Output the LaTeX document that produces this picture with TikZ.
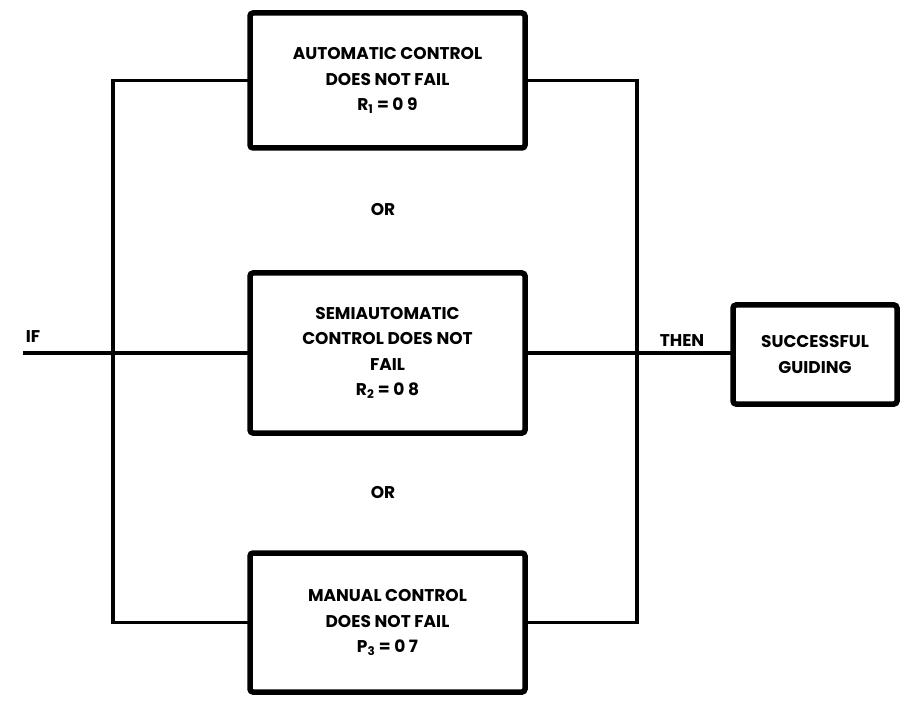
\documentclass[tikz,border=0pt]{standalone}
\usepackage{fontspec}
\setmainfont{Poppins}
\begin{document}
\begin{tikzpicture}[x=1pt,y=-1pt,
  blk/.style={draw, line width=5.5pt, rounded corners=3pt, inner sep=0pt,
    font=\fontsize{17}{25.5}\selectfont\bfseries, align=center, minimum width=275pt},
  wire/.style={line width=3.5pt, line cap=rect},
  lbl/.style={font=\fontsize{17}{18}\selectfont\bfseries, inner sep=0pt}]
\useasboundingbox (0,0) rectangle (902,708);
\node[blk, minimum height=135pt] (b1) at (387.5,80.5)
  {AUTOMATIC CONTROL\\DOES NOT FAIL\\R\textsubscript{1} = 0 9};
\node[blk, minimum height=160pt] (b2) at (387.5,353)
  {SEMIAUTOMATIC\\CONTROL DOES NOT\\FAIL\\R\textsubscript{2} = 0 8};
\node[blk, minimum height=139pt] (b3) at (387.5,622.5)
  {MANUAL CONTROL\\DOES NOT FAIL\\P\textsubscript{3} = 0 7};
\node[blk, minimum width=164pt, minimum height=99pt] (s) at (815,354.5)
  {SUCCESSFUL\\GUIDING};
\node[lbl] (or1) at (383,210) {OR};
\node[lbl] (or2) at (383,493) {OR};
\node[lbl] (if) at (33,337) {IF};
\node[lbl] (then) at (682,341) {THEN};
\coordinate (lt) at (113,80.5);
\coordinate (lb) at (113,622.5);
\coordinate (rt) at (637,80.5);
\coordinate (rb) at (637,622.5);
\coordinate (in) at (25,353);
\draw[wire] (b1.west) -- (lt) -- (lb) -- (b3.west);
\draw[wire] (b1.east) -- (rt) -- (rb) -- (b3.east);
\draw[wire] (in) -- (b2.west);
\draw[wire] (b2.east) -- (s.west |- b2.east);
\end{tikzpicture}
\end{document}
